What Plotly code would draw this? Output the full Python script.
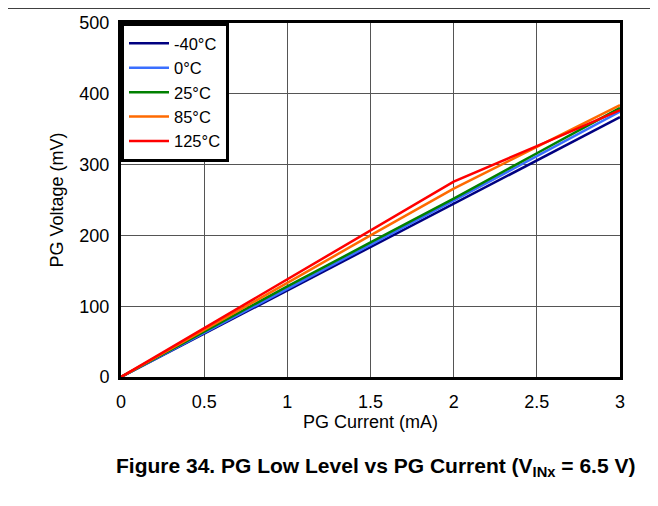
import plotly.graph_objects as go

# PG current (mA)
current_ma = [0, 0.5, 1, 1.5, 2, 2.5, 3]

# PG voltage (mV) per temperature
v_m40 = [0, 61, 122, 184, 245, 306, 367]
v_0 = [0, 62, 125, 187, 249, 312, 375]
v_25 = [0, 64, 128, 190, 252, 316, 380]
v_85 = [0, 66, 133, 200, 266, 325, 384]
v_125 = [0, 69, 139, 207, 276, 326, 377]

series_names = ["-40°C", "0°C", "25°C", "85°C", "125°C"]
series_values = [v_m40, v_0, v_25, v_85, v_125]
series_colors = ["#000080", "#3a6fff", "#008000", "#ff6a00", "#ff0000"]

FONT = "Liberation Sans, Arial, sans-serif"

fig = go.Figure()
for name, values, color in zip(series_names, series_values, series_colors):
    fig.add_trace(go.Scatter(
        x=current_ma, y=values, name=name, mode="lines",
        line=dict(color=color, width=2.5),
    ))

axis_common = dict(
    showgrid=True, gridcolor="#555555", gridwidth=1,
    showline=True, linecolor="black", linewidth=3, mirror=True,
    ticks="outside", tickcolor="rgba(0,0,0,0)", zeroline=False,
    automargin=False,
    tickfont=dict(size=18, color="black", family=FONT),
    title_font=dict(size=18, color="black", family=FONT),
)

fig.update_xaxes(range=[0, 3], dtick=0.5, ticklen=6, title_text="PG Current (mA)",
                 title_standoff=2, **axis_common)
fig.update_yaxes(range=[0, 500], dtick=100, ticklen=5, title_text="PG Voltage (mV)",
                 title_standoff=12, **axis_common)

fig.update_layout(
    width=658, height=506,
    margin=dict(l=113, r=46, t=15, b=137),
    paper_bgcolor="white", plot_bgcolor="white",
    font=dict(family=FONT, color="black"),
    legend=dict(
        x=0, y=1, xanchor="left", yanchor="top",
        bgcolor="white", bordercolor="black", borderwidth=3,
        font=dict(size=16.5, family=FONT), tracegroupgap=0,
        itemwidth=40,
    ),
    shapes=[dict(type="line", xref="paper", yref="paper",
                 x0=-121 / 499, x1=(658 - 121) / 499, y0=1 + 15 / 354, y1=1 + 15 / 354,
                 line=dict(color="black", width=1.5))],
    annotations=[dict(
        text="Figure 34. PG Low Level vs PG Current (V<sub>INx</sub> = 6.5 V)",
        xref="paper", yref="paper", x=(375 - 121) / 499, y=-(467 - 377) / 354,
        xanchor="center", yanchor="middle", showarrow=False,
        font=dict(size=21, family=FONT, color="black", weight="bold"),
    )],
)

fig.write_html("out.html")
